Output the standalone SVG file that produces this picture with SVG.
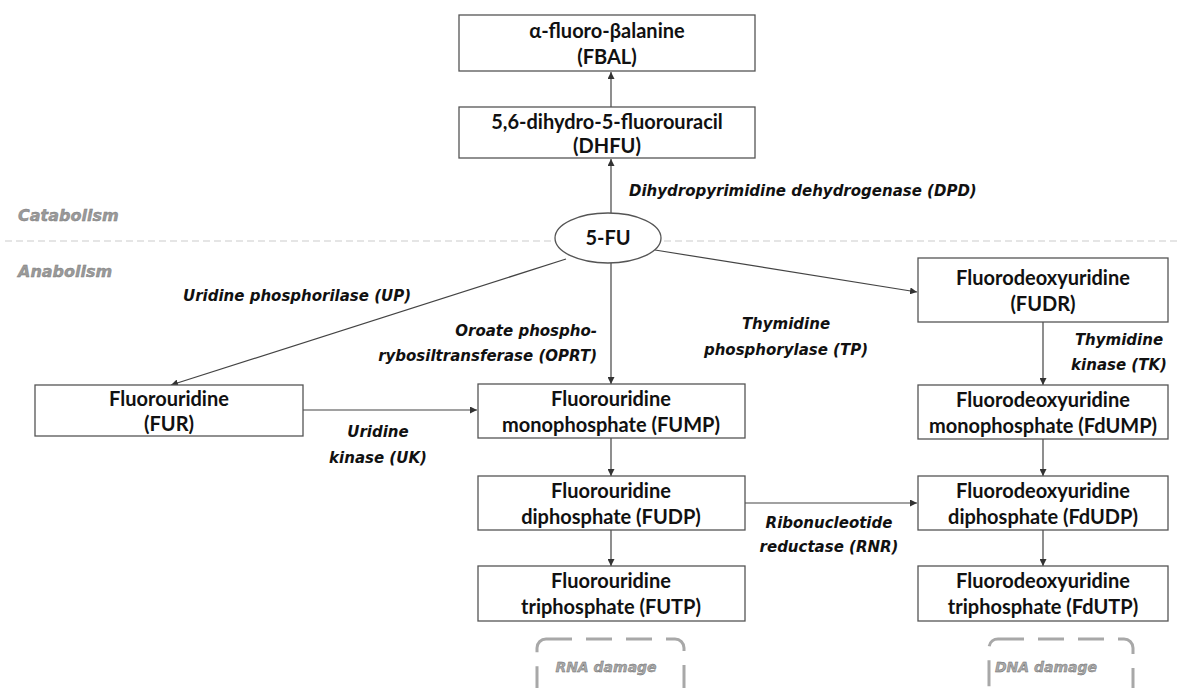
<svg xmlns="http://www.w3.org/2000/svg" width="1177" height="688" viewBox="0 0 1177 688">
<style>
.box{fill:#fff;stroke:#555;stroke-width:1.3}
.bt{font-family:Lato,"Liberation Sans",sans-serif;font-weight:700;font-size:20px;fill:#111;text-anchor:middle}
.lb{font-family:"DejaVu Sans",sans-serif;font-weight:700;font-style:italic;font-size:15px;fill:#111}
.zone{font-family:"DejaVu Sans",sans-serif;font-style:italic;font-weight:700;font-size:16px;fill:#9a9a9a;stroke:#777;stroke-width:0.4}
.dmg{font-family:"DejaVu Sans",sans-serif;font-style:italic;font-weight:700;font-size:14px;fill:#aaa;stroke:#666;stroke-width:0.4;text-anchor:middle}
.c{stroke:#444;stroke-width:1.2;fill:none;marker-end:url(#ah)}
.dash{stroke:#ccc;stroke-width:1.2;stroke-dasharray:7 4}
.dbox{fill:none;stroke:#a8a8a8;stroke-width:3;stroke-dasharray:26 14}
</style>
<defs>
<marker id="ah" viewBox="0 0 10 10" refX="10" refY="5" markerWidth="7" markerHeight="7" markerUnits="userSpaceOnUse" orient="auto">
<path d="M0,0 L10,5 L0,10 z" fill="#333"/>
</marker>
</defs>
<rect width="1177" height="688" fill="#fff"/>
<line class="dash" x1="5" y1="241" x2="553" y2="241"/>
<line class="dash" x1="664" y1="241" x2="1177" y2="241"/>
<text class="zone" x="18" y="221">Catabolism</text>
<text class="zone" x="18" y="277">Anabolism</text>
<g id="connectors">
<line class="c" x1="611" y1="107" x2="611" y2="72"/>
<line class="c" x1="611" y1="213" x2="611" y2="159"/>
<line class="c" x1="566" y1="259" x2="171" y2="385"/>
<line class="c" x1="611" y1="263" x2="611" y2="384"/>
<line class="c" x1="655" y1="250" x2="917" y2="292"/>
<line class="c" x1="1043" y1="322" x2="1043" y2="385"/>
<line class="c" x1="303" y1="410" x2="477" y2="410"/>
<line class="c" x1="611" y1="438" x2="611" y2="476"/>
<line class="c" x1="611" y1="530" x2="611" y2="566"/>
<line class="c" x1="745" y1="503" x2="917" y2="503"/>
<line class="c" x1="1043" y1="439" x2="1043" y2="476"/>
<line class="c" x1="1043" y1="530" x2="1043" y2="566"/>
</g>
<g id="labels">
<text class="lb" x="629" y="196">Dihydropyrimidine dehydrogenase (DPD)</text>
<text class="lb" x="183" y="301">Uridine phosphorilase (UP)</text>
<text class="lb" x="597" y="336" text-anchor="end">Oroate phospho-</text>
<text class="lb" x="597" y="361" text-anchor="end">rybosiltransferase (OPRT)</text>
<text class="lb" x="786" y="329" text-anchor="middle">Thymidine</text>
<text class="lb" x="786" y="355" text-anchor="middle">phosphorylase (TP)</text>
<text class="lb" x="1119" y="345" text-anchor="middle">Thymidine</text>
<text class="lb" x="1119" y="370" text-anchor="middle">kinase (TK)</text>
<text class="lb" x="378" y="437" text-anchor="middle">Uridine</text>
<text class="lb" x="378" y="463" text-anchor="middle">kinase (UK)</text>
<text class="lb" x="829" y="528" text-anchor="middle">Ribonucleotide</text>
<text class="lb" x="829" y="552" text-anchor="middle">reductase (RNR)</text>
</g>
<g id="FBAL"><rect class="box" x="459" y="15" width="296" height="56"/><text class="bt" x="607" y="38">α-fluoro-βalanine</text><text class="bt" x="607" y="64">(FBAL)</text></g>
<g id="DHFU"><rect class="box" x="459" y="107" width="296" height="51"/><text class="bt" x="607" y="129">5,6-dihydro-5-fluorouracil</text><text class="bt" x="607" y="153">(DHFU)</text></g>
<g id="FU"><ellipse cx="608" cy="238" rx="53" ry="25" fill="#fff" stroke="#555" stroke-width="1.3"/><text class="bt" x="608" y="245">5-FU</text></g>
<g id="FUDR"><rect class="box" x="918" y="258" width="250" height="64"/><text class="bt" x="1043" y="285">Fluorodeoxyuridine</text><text class="bt" x="1043" y="311">(FUDR)</text></g>
<g id="FUR"><rect class="box" x="35" y="385" width="268" height="51"/><text class="bt" x="169" y="406">Fluorouridine</text><text class="bt" x="169" y="431">(FUR)</text></g>
<g id="FUMP"><rect class="box" x="478" y="384" width="267" height="54"/><text class="bt" x="611" y="406">Fluorouridine</text><text class="bt" x="611" y="432">monophosphate (FUMP)</text></g>
<g id="FUDP"><rect class="box" x="478" y="476" width="267" height="54"/><text class="bt" x="611" y="498">Fluorouridine</text><text class="bt" x="611" y="524">diphosphate (FUDP)</text></g>
<g id="FUTP"><rect class="box" x="478" y="566" width="267" height="55"/><text class="bt" x="611" y="588">Fluorouridine</text><text class="bt" x="611" y="614">triphosphate (FUTP)</text></g>
<g id="FdUMP"><rect class="box" x="918" y="385" width="250" height="54"/><text class="bt" x="1043" y="407">Fluorodeoxyuridine</text><text class="bt" x="1043" y="433">monophosphate (FdUMP)</text></g>
<g id="FdUDP"><rect class="box" x="918" y="476" width="250" height="54"/><text class="bt" x="1043" y="498">Fluorodeoxyuridine</text><text class="bt" x="1043" y="524">diphosphate (FdUDP)</text></g>
<g id="FdUTP"><rect class="box" x="918" y="566" width="250" height="55"/><text class="bt" x="1043" y="588">Fluorodeoxyuridine</text><text class="bt" x="1043" y="614">triphosphate (FdUTP)</text></g>
<g id="RNAdamage"><rect class="dbox" x="537" y="639" width="147" height="70" rx="9"/><text class="dmg" x="606" y="672">RNA damage</text></g>
<g id="DNAdamage"><rect class="dbox" x="989" y="639" width="144" height="70" rx="9"/><text class="dmg" x="1046" y="672">DNA damage</text></g>
</svg>
